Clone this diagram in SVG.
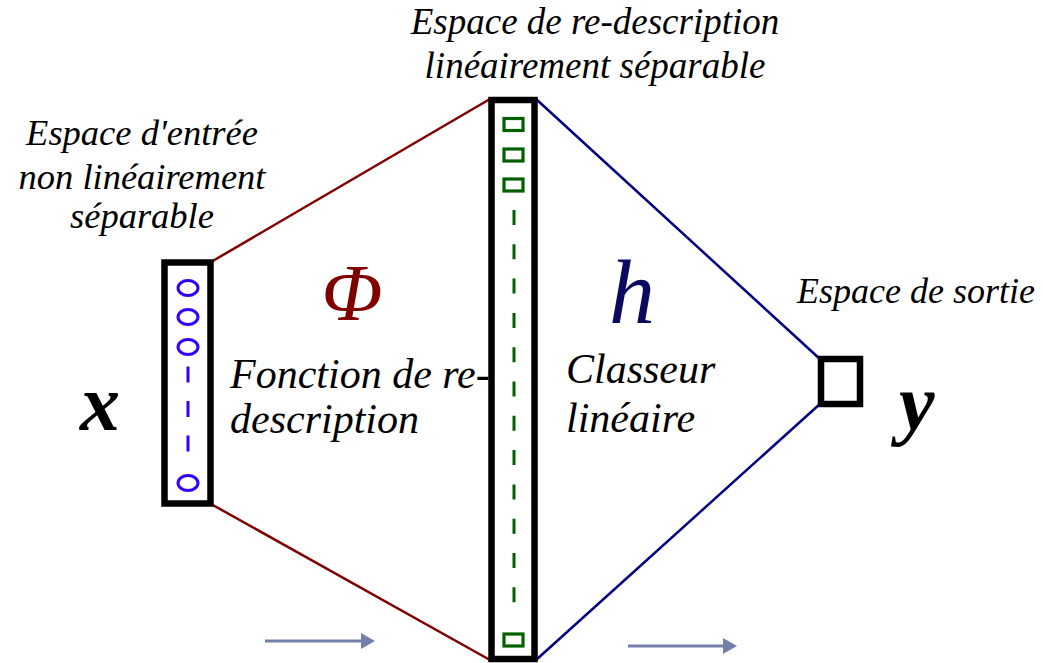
<svg xmlns="http://www.w3.org/2000/svg" width="1043" height="663" viewBox="0 0 1043 663">
<defs>
<style>
.lbl{font-family:"Liberation Serif","Times New Roman",serif;font-style:italic;fill:#000;}
.big{font-family:"Liberation Serif","Times New Roman",serif;font-style:italic;font-weight:bold;fill:#000;}
.box{fill:#fff;stroke:#000;stroke-width:6.5;}
.red{stroke:#800000;stroke-width:2.5;fill:none;}
.blue{stroke:#000080;stroke-width:2.5;fill:none;}
.circ{fill:none;stroke:#3300ff;stroke-width:3;}
.sq{fill:none;stroke:#006000;stroke-width:3.2;}
.arr{stroke:#7480aa;stroke-width:3;fill:none;}
</style>
<marker id="ah" viewBox="0 0 14 16" refX="0" refY="8" markerWidth="14" markerHeight="16" markerUnits="userSpaceOnUse" orient="auto">
<path d="M0,0 L14,8 L0,16 Z" fill="#7480aa"/>
</marker>
</defs>
<rect width="1043" height="663" fill="#fff"/>
<g id="connectors">
<line class="red" x1="211" y1="262" x2="490" y2="99"/>
<line class="red" x1="211" y1="504" x2="490" y2="660"/>
<line class="blue" x1="536" y1="99" x2="821" y2="360"/>
<line class="blue" x1="536" y1="660" x2="821" y2="403"/>
<line class="arr" x1="265" y1="641" x2="361" y2="641" marker-end="url(#ah)"/>
<line class="arr" x1="628" y1="646" x2="723" y2="646" marker-end="url(#ah)"/>
</g>
<g id="input">
<rect class="box" x="164.5" y="262.5" width="46" height="241"/>
<ellipse class="circ" cx="188" cy="288" rx="10" ry="7.5"/>
<ellipse class="circ" cx="188" cy="317" rx="10" ry="7.5"/>
<ellipse class="circ" cx="188" cy="347" rx="10" ry="7.5"/>
<line x1="188" y1="366.5" x2="188" y2="452" stroke="#3300ff" stroke-width="3" stroke-dasharray="16 18.5"/>
<ellipse class="circ" cx="188" cy="483" rx="10" ry="7.5"/>
<text class="lbl" x="142" y="145" font-size="36.5" text-anchor="middle">Espace d'entrée</text>
<text class="lbl" x="142" y="189" font-size="36.5" text-anchor="middle">non linéairement</text>
<text class="lbl" x="142" y="228" font-size="36.5" text-anchor="middle">séparable</text>
<text class="big" x="80" y="430" font-size="80">x</text>
</g>
<g id="feature">
<rect class="box" x="491.5" y="100" width="43" height="559"/>
<rect class="sq" x="504" y="118.5" width="19" height="12"/>
<rect class="sq" x="504" y="149" width="19" height="12"/>
<rect class="sq" x="504" y="179" width="19" height="12"/>
<line x1="514" y1="210" x2="514" y2="603" stroke="#006000" stroke-width="3" stroke-dasharray="15 19.3"/>
<rect class="sq" x="504" y="634" width="19" height="12"/>
<text class="lbl" x="595" y="34" font-size="37" text-anchor="middle">Espace de re-description</text>
<text class="lbl" x="595" y="78" font-size="37" text-anchor="middle">linéairement séparable</text>
</g>
<g id="phi">
<text class="lbl" x="352" y="320" font-size="80" text-anchor="middle" style="fill:#800000">Φ</text>
<text class="lbl" x="230" y="388" font-size="42">Fonction de re-</text>
<text class="lbl" x="230" y="433" font-size="42">description</text>
</g>
<g id="classifier">
<text class="lbl" x="632" y="323" font-size="92" text-anchor="middle" style="fill:#0a0a5e">h</text>
<text class="lbl" x="566" y="383" font-size="42">Classeur</text>
<text class="lbl" x="566" y="432" font-size="42">linéaire</text>
</g>
<g id="output">
<rect class="box" x="821" y="359" width="39" height="45" stroke-width="6"/>
<text class="lbl" x="916" y="303" font-size="36" text-anchor="middle">Espace de sortie</text>
<text class="big" x="899" y="430" font-size="80">y</text>
</g>
</svg>
